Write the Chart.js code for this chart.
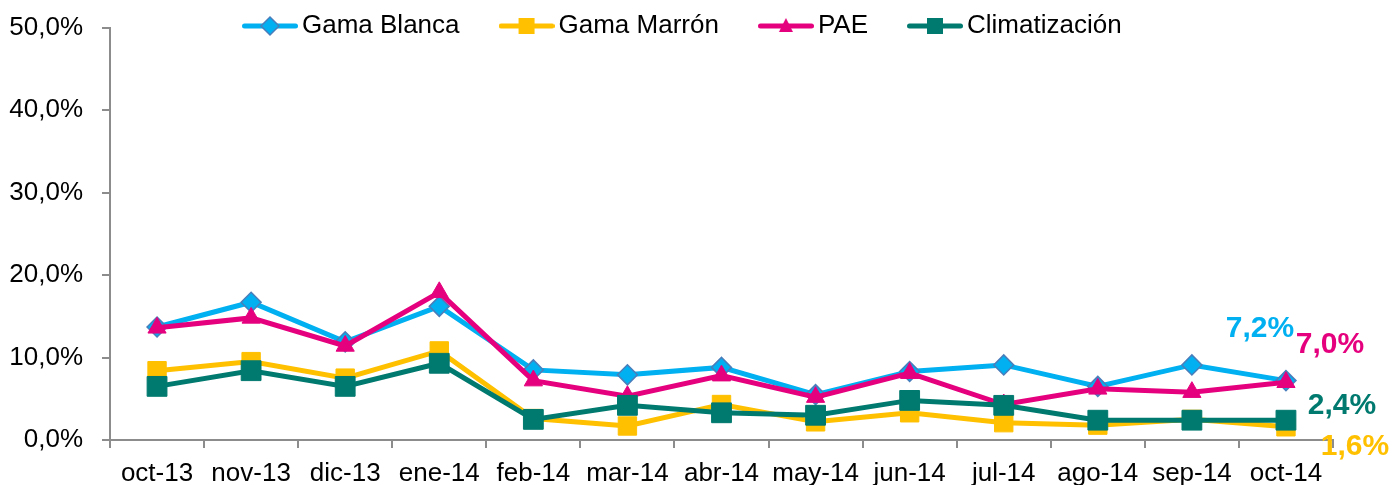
<!DOCTYPE html>
<html>
<head>
<meta charset="utf-8">
<script src="https://cdn.jsdelivr.net/npm/chart.js@4/dist/chart.umd.min.js"></script>
<style>
  html, body { margin: 0; padding: 0; background: #fff; }
</style>
</head>
<body>
<canvas id="grafico" width="1393" height="485"></canvas>
<script>
// Datos (%)
const meses = ['oct-13', 'nov-13', 'dic-13', 'ene-14', 'feb-14', 'mar-14', 'abr-14', 'may-14', 'jun-14', 'jul-14', 'ago-14', 'sep-14', 'oct-14'];
const gamaBlanca    = [13.7, 16.7, 11.9, 16.2, 8.5, 7.9, 8.8, 5.5, 8.3, 9.1, 6.5, 9.1, 7.2];
const gamaMarron    = [8.4, 9.5, 7.5, 10.8, 2.6, 1.7, 4.3, 2.2, 3.3, 2.1, 1.8, 2.5, 1.6];
const pae           = [13.6, 14.8, 11.4, 17.9, 7.2, 5.3, 7.8, 5.2, 8.1, 4.3, 6.2, 5.8, 7.0];
const climatizacion = [6.5, 8.4, 6.5, 9.3, 2.5, 4.2, 3.3, 3.0, 4.8, 4.2, 2.4, 2.4, 2.4];
const yTicks = [0, 10, 20, 30, 40, 50];

const fuente = "'Liberation Sans', Arial, sans-serif";
const gris = '#8c8c8c';

// Formato con coma decimal
function pct(v) {
    return v.toFixed(1).replace('.', ',') + '%';
}

// Imagen para la leyenda: línea con marcador
function imagenLeyenda(color, forma, borde) {
    const c = document.createElement('canvas');
    c.width = 56;
    c.height = 24;
    const g = c.getContext('2d');
    g.strokeStyle = color;
    g.lineWidth = 5;
    g.lineCap = 'round';
    g.beginPath();
    g.moveTo(2.5, 12);
    g.lineTo(53.5, 12);
    g.stroke();
    g.fillStyle = color;
    g.beginPath();
    if (forma === 'rombo') {
        g.moveTo(28, 3); g.lineTo(37, 12); g.lineTo(28, 21); g.lineTo(19, 12); g.closePath();
    } else if (forma === 'cuadro') {
        g.rect(20, 4, 16, 16);
    } else {
        g.moveTo(28, 4); g.lineTo(35, 18); g.lineTo(21, 18); g.closePath();
    }
    g.fill();
    if (borde) {
        g.strokeStyle = borde;
        g.lineWidth = 1.5;
        g.stroke();
    }
    return c;
}

const imagenes = [
    imagenLeyenda('#00B0F0', 'rombo', '#4A7EBB'),
    imagenLeyenda('#FFC000', 'cuadro'),
    imagenLeyenda('#E5007E', 'triangulo'),
    imagenLeyenda('#00796F', 'cuadro')
];

// Coloca la leyenda encima del área del gráfico, como en el original
const moverLeyenda = {
    id: 'moverLeyenda',
    afterLayout(chart) {
        const l = chart.legend;
        l.left = 203;
        l.right = 203 + 1393;
        l.top = -35;
        l.bottom = 45;
    }
};

// Etiquetas del último valor de cada serie
const etiquetasFinales = {
    id: 'etiquetasFinales',
    afterDatasetsDraw(chart) {
        const ctx = chart.ctx;
        ctx.save();
        ctx.font = 'bold 30px ' + fuente;
        ctx.textAlign = 'center';
        ctx.textBaseline = 'middle';
        chart.data.datasets.forEach((ds, i) => {
            const meta = chart.getDatasetMeta(i);
            const n = ds.data.length - 1;
            const pt = meta.data[n];
            ctx.fillStyle = ds.borderColor;
            ctx.fillText(pct(ds.data[n]), pt.x + ds.desplazamiento[0], pt.y + ds.desplazamiento[1]);
        });
        ctx.restore();
    }
};

new Chart(document.getElementById('grafico'), {
    type: 'line',
    data: {
        labels: meses,
        datasets: [
            {
                label: 'Gama Blanca',
                data: gamaBlanca,
                borderColor: '#00B0F0',
                backgroundColor: '#00B0F0',
                pointStyle: 'rectRot',
                pointRadius: 10,
                pointBorderColor: '#4A7EBB',
                pointBorderWidth: 1.5,
                order: 4,
                desplazamiento: [-26, -52]
            },
            {
                label: 'Gama Marrón',
                data: gamaMarron,
                borderColor: '#FFC000',
                backgroundColor: '#FFC000',
                pointStyle: 'rect',
                pointRadius: 13,
                pointBorderColor: '#FFC000',
                pointBorderWidth: 1,
                order: 3,
                desplazamiento: [69, 20]
            },
            {
                label: 'PAE',
                data: pae,
                borderColor: '#E5007E',
                backgroundColor: '#E5007E',
                pointStyle: 'triangle',
                pointRadius: 10.5,
                pointBorderColor: '#E5007E',
                pointBorderWidth: 1,
                order: 2,
                desplazamiento: [44, -38]
            },
            {
                label: 'Climatización',
                data: climatizacion,
                borderColor: '#00796F',
                backgroundColor: '#00796F',
                pointStyle: 'rect',
                pointRadius: 14,
                pointBorderColor: '#00796F',
                pointBorderWidth: 1,
                order: 1,
                desplazamiento: [56, -14]
            }
        ]
    },
    options: {
        responsive: false,
        animation: false,
        elements: {
            line: { borderWidth: 5, tension: 0, fill: false }
        },
        layout: { padding: { top: 0, right: 60, bottom: 0, left: 0 } },
        plugins: {
            tooltip: { enabled: false },
            legend: {
                position: 'top',
                align: 'start',
                maxHeight: 27.5,
                labels: {
                    usePointStyle: true,
                    pointStyleWidth: 38,
                    padding: 48,
                    color: '#000',
                    font: { family: fuente, size: 26 },
                    generateLabels(chart) {
                        const items = Chart.defaults.plugins.legend.labels.generateLabels(chart);
                        items.sort((a, b) => a.datasetIndex - b.datasetIndex);
                        items.forEach(it => { it.pointStyle = imagenes[it.datasetIndex]; });
                        return items;
                    }
                }
            }
        },
        scales: {
            x: {
                offset: true,
                grid: { offset: true, drawOnChartArea: false, tickLength: 8, color: gris, lineWidth: 2 },
                border: { display: true, color: gris, width: 2 },
                ticks: { color: '#000', font: { family: fuente, size: 26 }, padding: 10, maxRotation: 0, autoSkip: false },
                afterFit(s) { s.height = 45; }
            },
            y: {
                min: yTicks[0],
                max: yTicks[yTicks.length - 1],
                afterBuildTicks(s) { s.ticks = yTicks.map(v => ({ value: v })); },
                grid: { drawOnChartArea: false, tickLength: 8, color: gris, lineWidth: 2 },
                border: { display: true, color: gris, width: 2 },
                ticks: {
                    color: '#000',
                    font: { family: fuente, size: 26 },
                    padding: 19,
                    callback: v => pct(v)
                },
                afterFit(s) {
                    s.width = 110;
                    s.paddingTop = 0;
                    s.paddingBottom = 0;
                }
            }
        }
    },
    plugins: [moverLeyenda, etiquetasFinales]
});
</script>
</body>
</html>
